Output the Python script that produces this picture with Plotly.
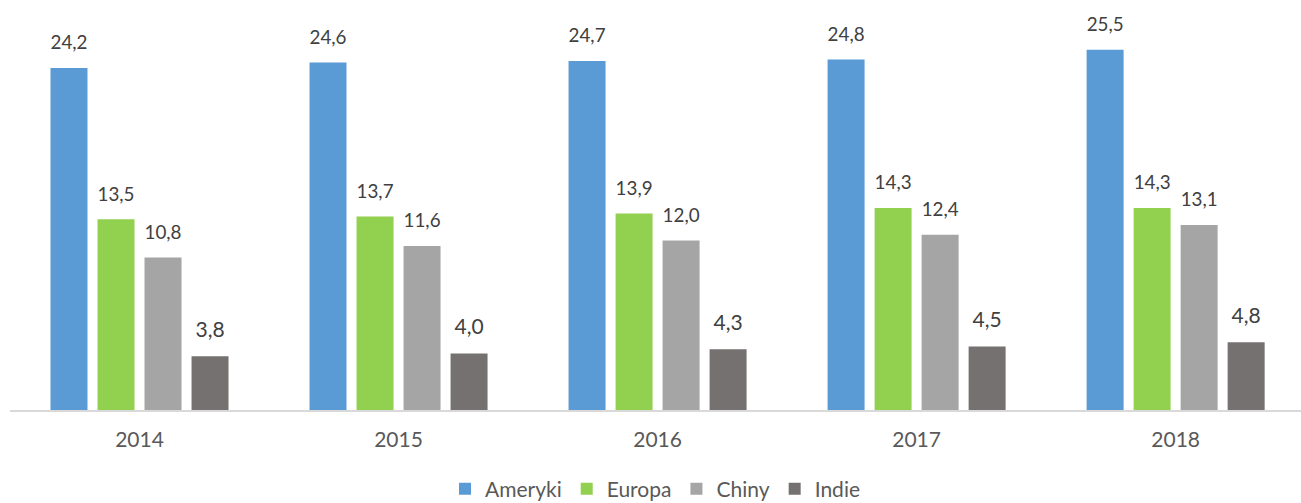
import plotly.graph_objects as go

years = ["2014", "2015", "2016", "2017", "2018"]
ameryki = [24.2, 24.6, 24.7, 24.8, 25.5]
europa = [13.5, 13.7, 13.9, 14.3, 14.3]
chiny = [10.8, 11.6, 12.0, 12.4, 13.1]
indie = [3.8, 4.0, 4.3, 4.5, 4.8]

series = [
    ("Ameryki", ameryki, "#5B9BD5"),
    ("Europa", europa, "#92D050"),
    ("Chiny", chiny, "#A5A5A5"),
    ("Indie", indie, "#767171"),
]

LABEL_LIFT = 0.85  # invisible spacer (in value units) between bar top and its label
FONT = "Lato, Open Sans, sans-serif"

fig = go.Figure()
for i, (name, vals, color) in enumerate(series):
    fig.add_trace(go.Bar(
        name=name, x=years, y=vals, marker=dict(color=color, line=dict(width=0)),
        offsetgroup=str(i), hoverinfo="x+y+name",
    ))
for i, (name, vals, color) in enumerate(series):
    fig.add_trace(go.Bar(
        name=name, x=years, y=[LABEL_LIFT] * len(vals), base=vals,
        offsetgroup=str(i), marker=dict(color="rgba(0,0,0,0)", line=dict(width=0)),
        text=[f"{v:.1f}".replace(".", ",") for v in vals],
        textposition="outside", textfont=dict(size=21, color="#404040", family=FONT),
        cliponaxis=False, showlegend=False, hoverinfo="skip",
    ))

fig.update_layout(
    width=1301, height=503,
    margin=dict(l=10, r=0, t=20, b=93, autoexpand=False),
    paper_bgcolor="white", plot_bgcolor="white",
    font=dict(family=FONT, color="#595959"),
    barmode="group", bargap=0.274, bargroupgap=0.213,
    showlegend=True,
    legend=dict(orientation="h", x=0.5, xanchor="center", y=-0.15, yanchor="top",
                font=dict(size=21, color="#595959"), traceorder="normal"),
    xaxis=dict(range=[-0.5, 4.484], showline=True, linecolor="#D9D9D9", linewidth=2,
               ticks="", tickfont=dict(size=21, color="#595959"), ticklabelstandoff=10),
    yaxis=dict(range=[0, 27.6], showgrid=False, showticklabels=False, zeroline=False),
)

fig.write_html("out.html", config={"displayModeBar": False},
               post_script="document.body.style.margin='0px';document.body.style.overflow='hidden';")
